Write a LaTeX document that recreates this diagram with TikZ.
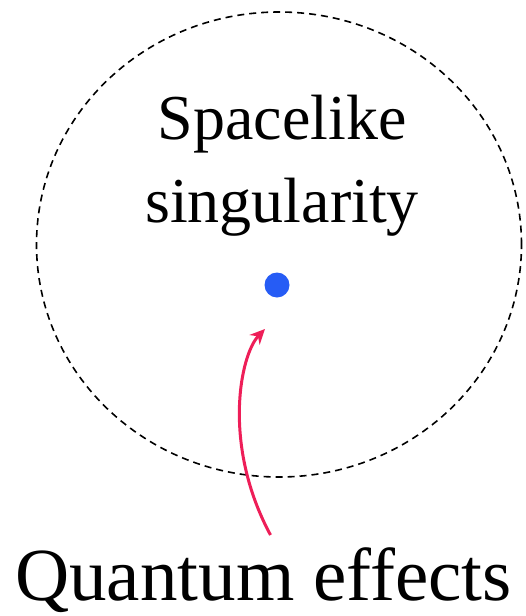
\documentclass[tikz,border=0pt]{standalone}
\usepackage{fontspec}
\setmainfont{Liberation Serif}
\definecolor{dotblue}{RGB}{38,92,245}
\definecolor{arrowpink}{RGB}{238,30,88}
\usetikzlibrary{shapes,arrows.meta,positioning,calc}

\begin{document}
\begin{tikzpicture}[x=1pt,y=-1pt,
    bigtext/.style={font=\fontsize{64}{82}\selectfont,inner sep=0,anchor=base},
    pointer/.style={arrowpink,line width=3pt,-{Stealth[length=15pt,width=14pt]}}]
    \useasboundingbox (0,0) rectangle (525,616);

    % Dashed region around the singularity
    \node[ellipse,draw,dash pattern=on 7pt off 5pt,line width=1.6pt,
          minimum width=485,minimum height=465,inner sep=0] (region) at (279,244.5) {};

    % Labels
    \node[bigtext] (spacelike) at (282,139.5) {Spacelike};
    \node[bigtext] (singular) at (282,222) {singularity};
    \node[bigtext,font=\fontsize{75}{90}\selectfont] (effects) at (263.5,600) {Quantum effects};

    % The singular point
    \node[circle,fill=dotblue,minimum size=25,inner sep=0] (point) at (277,285) {};

    % Arrow
    \coordinate (qtail) at (270.5,535);
    \coordinate (qhead) at (265,329);
    \draw[pointer] (qtail) .. controls (222,445) and (240,355) .. (qhead);
\end{tikzpicture}
\end{document}
